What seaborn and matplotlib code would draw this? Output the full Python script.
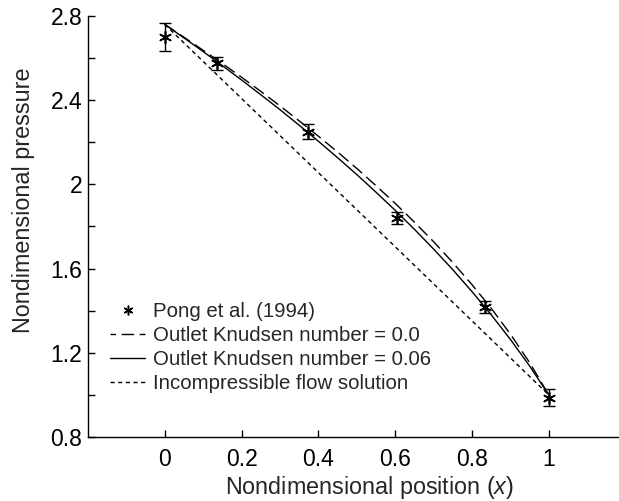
import numpy as np
import pandas as pd
import matplotlib
matplotlib.use("Agg")
import matplotlib.pyplot as plt
from matplotlib.lines import Line2D
from matplotlib.ticker import MultipleLocator
import seaborn as sns

# --- data ---
x_exp = [0.0, 0.135, 0.372, 0.605, 0.835, 1.0]
p_exp = [2.70, 2.575, 2.25, 1.84, 1.417, 0.987]
p_err = [0.065, 0.03, 0.035, 0.027, 0.03, 0.04]

x_curve = [0.0, 0.05, 0.1, 0.15, 0.2, 0.25, 0.3, 0.35, 0.4, 0.45, 0.5,
           0.55, 0.6, 0.65, 0.7, 0.75, 0.8, 0.85, 0.9, 0.95, 1.0]
p_kn0 = [2.760, 2.699, 2.637, 2.574, 2.509, 2.442, 2.373, 2.302, 2.229, 2.154, 2.076,
         1.994, 1.910, 1.821, 1.728, 1.629, 1.524, 1.412, 1.289, 1.154, 1.000]
p_kn006 = [2.760, 2.696, 2.631, 2.564, 2.496, 2.426, 2.355, 2.281, 2.205, 2.127, 2.047,
           1.963, 1.877, 1.787, 1.693, 1.595, 1.491, 1.381, 1.264, 1.138, 1.000]
x_incomp = [0.0, 1.0]
p_incomp = [2.76, 1.0]

labels = ["Pong et al. (1994)", "Outlet Knudsen number = 0.0",
          "Outlet Knudsen number = 0.06", "Incompressible flow solution"]

sns.set_style("ticks")
plt.rcParams['font.family'] = ['Liberation Sans', 'DejaVu Sans']
plt.rcParams['mathtext.fontset'] = 'custom'
plt.rcParams['mathtext.it'] = 'Liberation Sans:italic'
plt.rcParams['mathtext.rm'] = 'Liberation Sans'

fig = plt.figure(figsize=(6.19, 5.01), dpi=100)
ax = fig.add_axes([88 / 619, 1 - 437 / 501, 531 / 619, (437 - 16) / 501])

df_kn0 = pd.DataFrame({'x': x_curve, 'p': p_kn0})
df_kn006 = pd.DataFrame({'x': x_curve, 'p': p_kn006})
df_inc = pd.DataFrame({'x': x_incomp, 'p': p_incomp})

dash_long = (0, (9, 4))
dash_short = (0, (3, 2.5))

sns.lineplot(data=df_kn0, x='x', y='p', ax=ax, color='black', lw=1.0, linestyle=dash_long)
sns.lineplot(data=df_kn006, x='x', y='p', ax=ax, color='black', lw=1.0)
sns.lineplot(data=df_inc, x='x', y='p', ax=ax, color='black', lw=1.0, linestyle=dash_short)

ast = (6, 2, 0)
ax.errorbar(x_exp, p_exp, yerr=p_err, fmt='none', ecolor='black',
            elinewidth=1.0, capsize=4, capthick=1.0)
sns.scatterplot(x=x_exp, y=p_exp, ax=ax, marker=ast, s=70, color='black',
                linewidth=1.2, edgecolor='black')

ax.set_xlim(-0.2, 1.183)
ax.set_ylim(0.8, 2.8)
ax.set_xticks([0, 0.2, 0.4, 0.6, 0.8, 1.0])
ax.set_xticklabels(['0', '0.2', '0.4', '0.6', '0.8', '1'])
ax.set_yticks([0.8, 1.2, 1.6, 2.0, 2.4, 2.8])
ax.set_yticklabels(['0.8', '1.2', '1.6', '2', '2.4', '2.8'])
ax.yaxis.set_minor_locator(MultipleLocator(0.2))
ax.tick_params(axis='both', which='both', direction='in', length=5, width=1,
               labelsize=16.5, colors='black')
ax.tick_params(axis='x', pad=8)
ax.tick_params(axis='y', pad=4)
for s in ['top', 'right']:
    ax.spines[s].set_visible(False)
for s in ['left', 'bottom']:
    ax.spines[s].set_linewidth(1.0)
    ax.spines[s].set_color('black')

ax.set_xlabel('Nondimensional position ($x$)', fontsize=16.8)
ax.set_ylabel('Nondimensional pressure', fontsize=16.8)
ax.xaxis.set_label_coords((370 - 88) / 531, -0.088)
ax.yaxis.set_label_coords(-0.10, 1 - (200 - 16) / 421)

handles = [
    Line2D([], [], color='black', marker=ast, linestyle='none', markersize=7, markeredgewidth=1.1),
    Line2D([], [], color='black', lw=1.0, linestyle=(5, (9, 4))),
    Line2D([], [], color='black', lw=1.0),
    Line2D([], [], color='black', lw=1.0, linestyle=dash_short),
]
leg = ax.legend(handles, labels, loc='lower left', bbox_to_anchor=(0.026, 0.085),
                frameon=False, fontsize=14.7, handlelength=1.72, handletextpad=0.4,
                labelspacing=0.25, borderaxespad=0.0)

fig.savefig('out.png', dpi=100)
